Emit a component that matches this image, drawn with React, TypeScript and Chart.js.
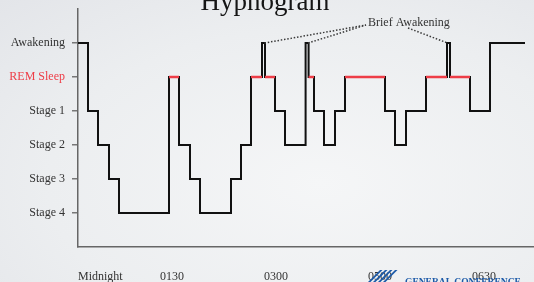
import React, { useEffect, useRef } from "react";
import { Chart, registerables } from "chart.js";

Chart.register(...registerables);

// Sleep stages (value on the y scale -> label)
const stageValues = [1, 2, 3, 4, 5, 6];
const stageLabels = ["Stage 4", "Stage 3", "Stage 2", "Stage 1", "REM Sleep", "Awakening"];
const REM = 5;
const AWAKE = 6;

// Hypnogram segments: start time (minutes after midnight) and stage held from there
const segmentStarts = [0, 10, 20, 31, 41, 91, 101, 112, 122, 153, 163, 173, 184, 187, 197, 207, 227.6, 230.6, 236, 246, 257, 267, 307, 317, 328, 348, 369, 372, 392, 412];
const segmentStages = [6, 4, 3, 2, 1, 5, 3, 2, 1, 2, 3, 5, 6, 5, 4, 3, 6, 5, 4, 3, 4, 5, 4, 3, 4, 5, 6, 5, 4, 6];
const sleepEnd = 447;

// Time axis
const timeMin = 0;
const timeMax = 456;
const timeTickValues = [0, 82, 186, 290, 394];
const timeTickLabels = ["Midnight", "0130", "0300", "0500", "0630"];

const titleText = "Hypnogram";
const annotationText = "Brief Awakening";
const annotationAt = { x: 290, y: 6.5 };
const logoText = "GENERAL CONFERENCE";

const SERIF = "'Liberation Serif', 'DejaVu Serif', serif";
const RED = "#ee3d47";

export default function App() {
  const canvasRef = useRef<HTMLCanvasElement | null>(null);

  useEffect(() => {
    if (!canvasRef.current) return;

    const hypnoPoints = segmentStarts.map((s, i) => ({ x: s, y: segmentStages[i] }));
    hypnoPoints.push({ x: sleepEnd, y: segmentStages[segmentStages.length - 1] });

    const remPoints: { x: number; y: number | null }[] = [];
    segmentStages.forEach((st, i) => {
      if (st === REM) {
        const end = i + 1 < segmentStarts.length ? segmentStarts[i + 1] : sleepEnd;
        remPoints.push({ x: segmentStarts[i], y: REM });
        remPoints.push({ x: end, y: REM });
        remPoints.push({ x: end, y: null });
      }
    });

    // brief awakenings: awake segments in the middle of the night
    const briefMid: number[] = [];
    segmentStages.forEach((st, i) => {
      if (st === AWAKE && i > 0 && i < segmentStages.length - 1) {
        briefMid.push((segmentStarts[i] + segmentStarts[i + 1]) / 2);
      }
    });

    const decor = {
      id: "decor",
      afterDraw(chart: any) {
        const ctx = chart.ctx as CanvasRenderingContext2D;
        const xs = chart.scales.x;
        const ys = chart.scales.y;
        ctx.save();
        // title
        ctx.fillStyle = "#151515";
        ctx.font = `27px ${SERIF}`;
        ctx.textAlign = "center";
        ctx.textBaseline = "alphabetic";
        ctx.fillText(titleText, 265, 10);

        // annotation
        const tx = xs.getPixelForValue(annotationAt.x);
        const ty = ys.getPixelForValue(annotationAt.y);
        ctx.font = `12px ${SERIF}`;
        ctx.textAlign = "left";
        ctx.fillStyle = "#333";
        ctx.fillText(annotationText, tx, ty);
        ctx.strokeStyle = "#3a3a3a";
        ctx.lineWidth = 1.5;
        ctx.setLineDash([1.5, 1.8]);
        const topY = ys.getPixelForValue(AWAKE);
        briefMid.forEach((m) => {
          const px = xs.getPixelForValue(m);
          ctx.beginPath();
          if (px < tx) {
            ctx.moveTo(px + 1, topY);
            ctx.lineTo(tx - 2, ty - 1);
          } else {
            ctx.moveTo(tx + 40, ty + 2);
            ctx.lineTo(px - 1, topY);
          }
          ctx.stroke();
        });
        ctx.setLineDash([]);

        // logo
        ctx.fillStyle = "#1d5aa8";
        const lx = 368;
        for (let k = 0; k < 4; k++) {
          const ox = lx + k * 5;
          ctx.beginPath();
          ctx.moveTo(ox, 282);
          ctx.lineTo(ox + 12, 270);
          ctx.lineTo(ox + 14.5, 270);
          ctx.lineTo(ox + 2.5, 282);
          ctx.closePath();
          ctx.fill();
        }
        ctx.font = `bold 9.5px ${SERIF}`;
        ctx.textAlign = "left";
        ctx.fillText(logoText, 405, 284.5);
        ctx.restore();
      },
    };

    const chart = new Chart(canvasRef.current, {
      type: "line",
      data: {
        datasets: [
          {
            data: remPoints as any,
            borderColor: RED,
            borderWidth: 2.5,
            pointRadius: 0,
            spanGaps: false,
            borderCapStyle: "butt",
          },
          {
            data: hypnoPoints,
            stepped: true,
            borderColor: "#111",
            borderWidth: 2,
            pointRadius: 0,
            borderJoinStyle: "miter",
            borderCapStyle: "butt",
          },
        ],
      },
      options: {
        animation: false,
        responsive: false,
        maintainAspectRatio: false,
        layout: { padding: { top: 9, right: 0, bottom: 0, left: 0 } },
        plugins: {
          legend: { display: false },
          tooltip: { enabled: false },
          title: { display: false },
        },
        scales: {
          x: {
            type: "linear",
            min: timeMin,
            max: timeMax,
            grid: { display: false, drawTicks: false },
            border: { display: true, color: "#666", width: 1.5 },
            afterBuildTicks: (s: any) => {
              s.ticks = timeTickValues.map((v) => ({ value: v }));
            },
            afterFit: (s: any) => {
              s.height = 35;
              s.paddingLeft = 0;
              s.paddingRight = 0;
            },
            ticks: {
              align: "start",
              padding: 23,
              autoSkip: false,
              maxRotation: 0,
              color: "#333",
              font: { family: SERIF, size: 12 },
              callback: (v: any) => timeTickLabels[timeTickValues.indexOf(Number(v))] ?? "",
            },
          },
          y: {
            type: "linear",
            min: 0,
            max: 7,
            grid: { drawOnChartArea: false, drawTicks: true, tickLength: 6, color: "#777", lineWidth: 1.5 },
            border: { display: true, color: "#666", width: 1.5 },
            afterBuildTicks: (s: any) => {
              s.ticks = stageValues.map((v) => ({ value: v }));
            },
            afterFit: (s: any) => {
              s.width = 78;
              s.paddingTop = 0;
              s.paddingBottom = 0;
            },
            ticks: {
              padding: 7,
              autoSkip: false,
              font: { family: SERIF, size: 12 },
              color: (c: any) => (c.tick && c.tick.value === REM ? RED : "#333"),
              callback: (v: any) => stageLabels[stageValues.indexOf(Number(v))] ?? "",
            },
          },
        },
      },
      plugins: [decor],
    });

    return () => chart.destroy();
  }, []);

  return (
    <div
      style={{
        position: "fixed",
        left: 0,
        top: 0,
        width: 534,
        height: 282,
        overflow: "hidden",
        background: "radial-gradient(ellipse at 60% 65%, #f5f6f7 0%, #eceef0 60%, #e3e5e9 100%)",
      }}
    >
      <canvas ref={canvasRef} width={534} height={282} style={{ display: "block" }} />
    </div>
  );
}
